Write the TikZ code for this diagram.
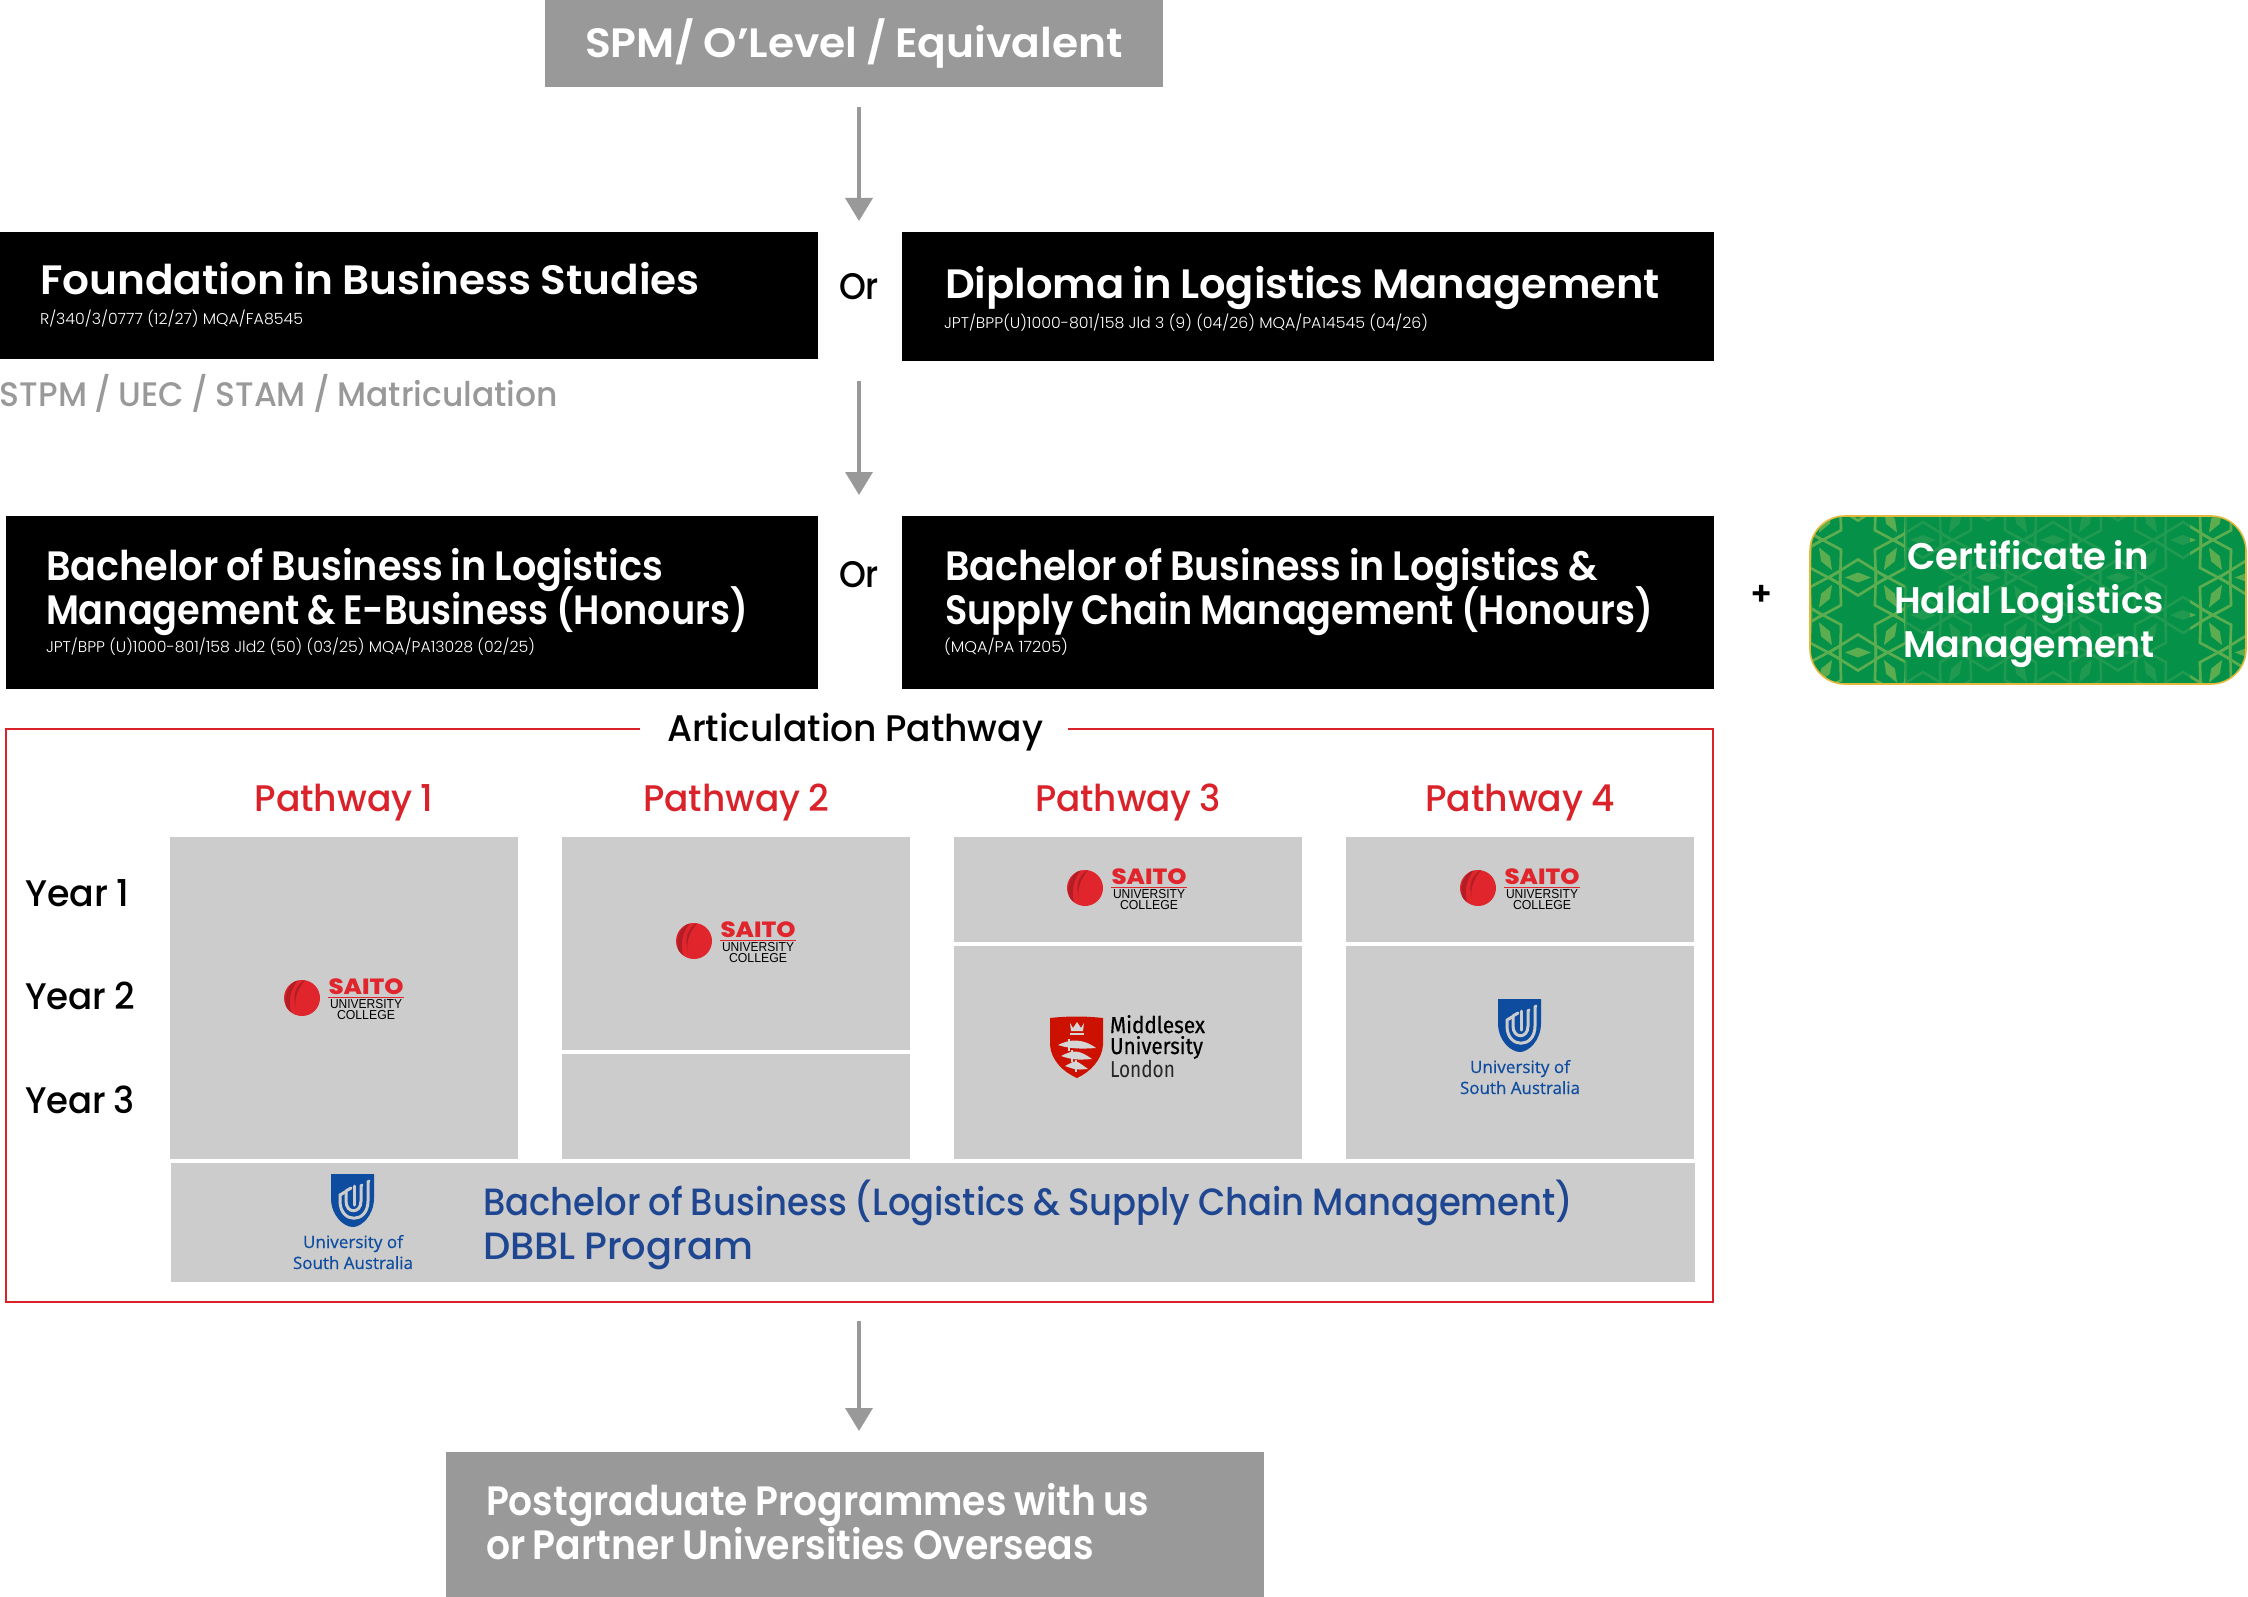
\documentclass[tikz,border=0pt]{standalone}
\usepackage{fontspec}
\usepackage{graphicx}
\usetikzlibrary{arrows.meta}
\newfontfamily\pop{Poppins}
\newfontfamily\popm[WordSpace=0.85]{Poppins Medium}
\newfontfamily\pops[WordSpace=0.85]{Poppins SemiBold}
\newfontfamily\popl{Poppins Light}
\newfontfamily\arialf{Liberation Sans}
\newfontfamily\saitof{Poppins ExtraBold}
\newfontfamily\logof[FakeBold=0.4]{Open Sans}
\newfontfamily\mdxf[FakeBold=0.5]{Fira Sans}
\newfontfamily\mdxl{Fira Sans}
\newcommand\tw[2]{\resizebox{#1pt}{\height}{#2}}
\newcommand\fs[1]{\fontsize{#1pt}{#1pt}\selectfont}
\definecolor{boxgrey}{HTML}{999999}
\definecolor{panel}{HTML}{CCCCCC}
\definecolor{redline}{HTML}{D9222A}
\definecolor{bandblue}{HTML}{1F4690}
\definecolor{unisa}{HTML}{0D4C9E}
\definecolor{halal}{HTML}{069148}
\definecolor{halalf}{HTML}{1F9A50}
\definecolor{halalb}{HTML}{5BAD50}
\definecolor{gold}{HTML}{E2B93B}
\definecolor{saitored}{HTML}{E0262C}
\definecolor{saitodark}{HTML}{B31E26}
\definecolor{mdx}{HTML}{CC1100}
\newcommand\greenpat[1]{%
  \foreach \k in {-1,...,14}{\foreach \j in {-1,...,3}{%
    \pgfmathsetmacro\px{1858+65*\k}
    \pgfmathsetmacro\py{540+75*\j+37.5*mod(\k+20,2)}
    \foreach \a in {90,30,-30}{%
      \begin{scope}[shift={(\px,\py)},rotate=\a,shift={(37.5,0)}]
        \draw[#1,line width=2.6pt,line join=miter] (-18,0)--(0,29)--(18,0)--(0,-29)--cycle;
        \fill[#1] (-5,0)--(0,13)--(5,0)--(0,-13)--cycle;
      \end{scope}}%
  }}}
\tikzset{
  x=1pt,y=-1pt,
  every node/.style={inner sep=0pt,outer sep=0pt},
  blackbox/.style={fill=black,draw=none,anchor=north west},
  greybox/.style={fill=boxgrey,draw=none,anchor=north west},
  panelbox/.style={fill=panel,draw=none,anchor=north west},
  titletxt/.style={text=white,anchor=base west,font=\pops\fs{41}},
  subtxt/.style={text=white,anchor=base west,font=\popl\fs{15.5}},
  ortxt/.style={font=\popm\fs{37},text=black,anchor=center},
  pathtxt/.style={font=\popm\fs{37},text=redline,anchor=base},
  yeartxt/.style={font=\popm\fs{37},text=black,anchor=base west},
  halaltxt/.style={font=\pops\fs{37},text=white,anchor=base},
  bandtxt/.style={font=\popm\fs{38},text=bandblue,anchor=base west},
  flow/.style={draw=boxgrey,line width=3.5pt,-{Triangle[length=23pt,width=27pt]}},
  pics/saito/.style={code={
    \fill[saitored] (0,0) circle (18);
    \begin{scope}
      \clip (0,0) circle (18);
      \fill[saitodark] (-3,-19) .. controls (-13,-8) and (-14,6) .. (-10,17) .. controls (-20,10) and (-20,-12) .. (-3,-19);
      \fill[saitodark] (4,-19) .. controls (-5,-9) and (-8,2) .. (-6,10) .. controls (-10,-3) and (-7,-12) .. (4,-19);
    \end{scope}
    \node[anchor=base,text=saitored,font=\saitof\fs{22}] (saitoname) at (64,-3.5) {\tw{75}{SAITO}};
    \draw[saitored,line width=1pt] (26,-1)--(102,-1);
    \node[anchor=base,text=black,font=\arialf\fs{13}] (saitouni) at (64,10) {\tw{72}{UNIVERSITY}};
    \node[anchor=base,text=black,font=\arialf\fs{13}] (saitocol) at (64,21) {\tw{58}{COLLEGE}};
  }},
  pics/unisa/.style={code={
    \fill[unisa] (-22,0)--(21,0)--(21,24) .. controls (21,42) and (8,53) .. (0,53) .. controls (-9,53) and (-22,42) .. (-22,24)--cycle;
    \begin{scope}[draw=panel,line width=3pt,line cap=round]
      \draw (16,7)--(15,8)--(15,27) .. controls (15,50) and (-13,50) .. (-13,27)--(-13,21)--(-8,18);
      \draw (9,11)--(8,12)--(8,27) .. controls (8,40) and (-7,40) .. (-7,27)--(-7,17)--(-2,14);
      \draw (1,12)--(1,31);
    \end{scope}
    \node[anchor=base,text=unisa,font=\logof\fs{17}] (unitop) at (0,74) {\tw{100}{University of}};
    \node[anchor=base,text=unisa,font=\logof\fs{17}] (unibot) at (0,95) {\tw{120}{South Australia}};
  }},
}
\newcommand\sword[3]{%
  \fill[panel!80!white] (#1,#3) .. controls (#1+12,#3-6) and (#2-14,#3-7) .. (#2,#3+3) .. controls (#2-14,#3+4) and (#1+12,#3+4) .. cycle;
  \draw[panel!80!white,line width=1.6pt] (#1+11,#3-6)--(#1+11,#3+6);}
\begin{document}
\begin{tikzpicture}
\useasboundingbox (0,0) rectangle (2248,1597);
% top box
\node[greybox,minimum width=618pt,minimum height=87pt] (spm) at (545,0) {};
\node[anchor=base west,text=white,font=\pops\fs{41}] (spmt) at (585,58) {\tw{538}{SPM/ O’Level / Equivalent}};
\coordinate (a1s) at (859,107); \coordinate (a1e) at (859,221);
\draw[flow] (a1s)--(a1e);
% row 1
\node[blackbox,minimum width=818pt,minimum height=127pt] (found) at (0,232) {};
\node[titletxt] (foundt) at (40,295) {\tw{660}{Foundation in Business Studies}};
\node[subtxt] (founds) at (40,324) {\tw{263}{R/340/3/0777 (12/27) MQA/FA8545}};
\node[blackbox,minimum width=812pt,minimum height=129pt] (dip) at (902,232) {};
\node[titletxt] (dipt) at (945,299) {\tw{715}{Diploma in Logistics Management}};
\node[subtxt] (dips) at (944,328) {\tw{484}{JPT/BPP(U)1000-801/158 Jld 3 (9) (04/26) MQA/PA14545 (04/26)}};
\node[ortxt] (or1) at (859,287) {\tw{40}{Or}};
\node[anchor=base west,font=\popm\fs{34},text=boxgrey] (stpm) at (0,406) {\tw{558}{STPM / UEC / STAM / Matriculation}};
\coordinate (a2s) at (859,381); \coordinate (a2e) at (859,495);
\draw[flow] (a2s)--(a2e);
% row 2
\node[blackbox,minimum width=812pt,minimum height=173pt] (bach1) at (6,516) {};
\node[titletxt] (bach1a) at (46,580) {\tw{617}{Bachelor of Business in Logistics}};
\node[titletxt] (bach1b) at (46,624) {\tw{702}{Management \& E-Business (Honours)}};
\node[subtxt] (bach1s) at (46,652) {\tw{489}{JPT/BPP (U)1000-801/158 Jld2 (50) (03/25) MQA/PA13028 (02/25)}};
\node[blackbox,minimum width=812pt,minimum height=173pt] (bach2) at (902,516) {};
\node[titletxt] (bach2a) at (945,580) {\tw{653}{Bachelor of Business in Logistics \&}};
\node[titletxt] (bach2b) at (945,624) {\tw{708}{Supply Chain Management (Honours)}};
\node[subtxt] (bach2s) at (944,652) {\tw{124}{(MQA/PA 17205)}};
\node[ortxt] (or2) at (859,575) {\tw{40}{Or}};
\node[font=\pops\fs{33},text=black] (plus) at (1762,595) {+};
% halal
\begin{scope}
  \clip[rounded corners=35pt] (1810,516) rectangle (2246,684);
  \fill[halal] (1810,516) rectangle (2246,684);
  \greenpat{halalf}
  \begin{scope}
    \clip (1810,516) rectangle (1905,684) (2190,516) rectangle (2246,684);
    \greenpat{halalb}
  \end{scope}
\end{scope}
\node[draw=gold,line width=1.6pt,rounded corners=35pt,minimum width=436pt,minimum height=168pt,anchor=north west] (cert) at (1810,516) {};
\node[halaltxt] (certa) at (2028,569) {\tw{241}{Certificate in}};
\node[halaltxt] (certb) at (2029,613) {\tw{270}{Halal Logistics}};
\node[halaltxt] (certc) at (2029,657) {\tw{252}{Management}};
% red frame
\node[draw=redline,line width=1.6pt,anchor=north west,minimum width=1707pt,minimum height=573pt] (frame) at (6,729) {};
\fill[white] (640,724) rectangle (1068,734);
\node[anchor=base,font=\popm\fs{37},text=black] (artic) at (855,741) {\tw{376}{Articulation Pathway}};
\node[pathtxt] (p1) at (344,811) {\tw{179}{Pathway 1}};
\node[pathtxt] (p2) at (736,811) {\tw{186}{Pathway 2}};
\node[pathtxt] (p3) at (1128,811) {\tw{186}{Pathway 3}};
\node[pathtxt] (p4) at (1520,811) {\tw{190}{Pathway 4}};
\node[yeartxt] (y1) at (25,906) {\tw{104}{Year 1}};
\node[yeartxt] (y2) at (25,1009) {\tw{110}{Year 2}};
\node[yeartxt] (y3) at (25,1113) {\tw{110}{Year 3}};
% panels
\node[panelbox,minimum width=348pt,minimum height=322pt] (c1) at (170,837) {};
\node[panelbox,minimum width=348pt,minimum height=213pt] (c2a) at (562,837) {};
\node[panelbox,minimum width=348pt,minimum height=105pt] (c2b) at (562,1054) {};
\node[panelbox,minimum width=348pt,minimum height=105pt] (c3a) at (954,837) {};
\node[panelbox,minimum width=348pt,minimum height=213pt] (c3b) at (954,946) {};
\node[panelbox,minimum width=348pt,minimum height=105pt] (c4a) at (1346,837) {};
\node[panelbox,minimum width=348pt,minimum height=213pt] (c4b) at (1346,946) {};
\node[panelbox,minimum width=1524pt,minimum height=119pt] (band) at (171,1163) {};
% logos
\pic (s1) at (302,998) {saito};
\pic (s2) at (694,941) {saito};
\pic (s3) at (1085,888) {saito};
\pic (s4) at (1478,888) {saito};
\pic (u1) at (1520,999) {unisa};
\pic (u2) at (353,1174) {unisa};
% middlesex
\fill[mdx] (1050,1018) .. controls (1068,1016) and (1085,1016) .. (1103,1018) -- (1103,1045) .. controls (1102,1060) and (1090,1072) .. (1077,1078) .. controls (1063,1072) and (1051,1060) .. (1050,1045) -- cycle;
\fill[panel!80!white] (1070,1023)--(1073,1028)--(1077,1022)--(1081,1028)--(1084,1023)--(1083,1031)--(1071,1031)--cycle;
\fill[panel!80!white] (1070,1033) rectangle (1084,1034.5);
\sword{1058}{1096}{1045}
\sword{1061}{1092}{1056}
\sword{1065}{1088}{1066}
\node[anchor=base west,font=\mdxf\fs{23},text=black] (mdxa) at (1110,1033) {\tw{95}{Middlesex}};
\node[anchor=base west,font=\mdxf\fs{23},text=black] (mdxb) at (1110,1054) {\tw{93}{University}};
\node[anchor=base west,font=\mdxl\fs{23},text=black!85] (mdxc) at (1110,1077) {\tw{65}{London}};
% band text
\node[bandtxt] (banda) at (483,1215) {\tw{1090}{Bachelor of Business (Logistics \& Supply Chain Management)}};
\node[bandtxt] (bandb) at (483,1259) {\tw{270}{DBBL Program}};
\coordinate (a3s) at (859,1321); \coordinate (a3e) at (859,1431);
\draw[flow] (a3s)--(a3e);
% postgrad
\node[greybox,minimum width=818pt,minimum height=145pt] (post) at (446,1452) {};
\node[titletxt] (posta) at (486,1515) {\tw{663}{Postgraduate Programmes with us}};
\node[titletxt] (postb) at (486,1559) {\tw{608}{or Partner Universities Overseas}};
\end{tikzpicture}
\end{document}
